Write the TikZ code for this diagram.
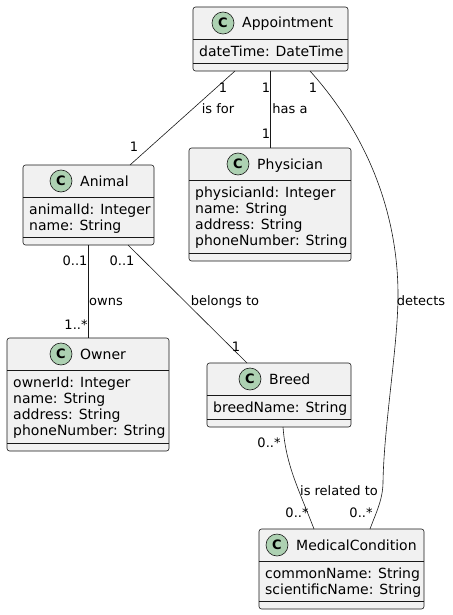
\documentclass[tikz,border=0pt]{standalone}
\usepackage{fontspec}
\setmainfont{DejaVu Sans}
\usetikzlibrary{calc}

\definecolor{boxfill}{HTML}{F1F1F1}
\definecolor{boxline}{HTML}{181818}
\definecolor{iconfill}{HTML}{ADD1B2}

\tikzset{
	classbox/.style={draw=boxline, fill=boxfill, rounded corners=2.5pt, line width=0.6pt, inner sep=0pt, outer sep=0pt},
	classicon/.style={circle, draw=boxline, fill=iconfill, line width=0.6pt, minimum size=22pt, inner sep=0pt, font=\fontsize{13}{13}\selectfont\bfseries},
	classtext/.style={inner sep=0pt, align=left, font=\fontsize{14}{16}\selectfont},
	assoc/.style={draw=boxline, line width=0.6pt},
	lbl/.style={inner sep=0pt, text height=9.4pt, text depth=0pt, font=\fontsize{13}{15}\selectfont}
}

% name, x, y, width, height, icon offset, title, attributes
\newcommand{\umlclass}[8]{%
	\node[classbox, minimum width=#4pt, minimum height=#5pt, anchor=north west] (#1) at (#2,#3) {};
	\node[classicon] (#1-icon) at ($(#1.north west)+(#6,16)$) {C};
	\node[classtext, anchor=base west] (#1-title) at ($(#1-icon.center)+(19,5)$) {#7};
	\draw[assoc] ($(#1.north west)+(0,32)$) -- ($(#1.north east)+(0,32)$);
	\draw[assoc] ($(#1.south west)+(0,-8)$) -- ($(#1.south east)+(0,-8)$);
	\node[classtext, anchor=north west] (#1-attr) at ($(#1.north west)+(6,39)$) {#8};
}

\begin{document}
\begin{tikzpicture}[x=1pt, y=-1pt]
	\useasboundingbox (0,0) rectangle (452,615);
	
	%%%%% CLASSES %%%%%
	\umlclass{appointment}{193}{7}{155}{64}{30}{Appointment}{dateTime: DateTime}
	\umlclass{animal}{23}{165}{131}{80}{38}{Animal}{animalId: Integer\\name: String}
	\umlclass{physician}{189}{148}{162}{113}{49}{Physician}{physicianId: Integer\\name: String\\address: String\\phoneNumber: String}
	\umlclass{owner}{7}{338}{162}{113}{54}{Owner}{ownerId: Integer\\name: String\\address: String\\phoneNumber: String}
	\umlclass{breed}{207}{363}{144}{64}{43}{Breed}{breedName: String}
	\umlclass{medcond}{259}{529}{165}{80}{18}{MedicalCondition}{commonName: String\\scientificName: String}
	
	%%%%% ASSOCIATIONS %%%%%
	\draw[assoc] ([xshift=42]appointment.south west) -- ([xshift=107]animal.north west);
	\draw[assoc] ([xshift=77]appointment.south west) -- ([xshift=81]physician.north west);
	\draw[assoc] ([xshift=117]appointment.south west) .. controls (372,140) and (398,220) .. (398,295)
		.. controls (398,345) and (384,425) .. (383,482)
		.. controls (383,500) and (375,515) .. ([xshift=111]medcond.north west);
	\draw[assoc] ([xshift=65]animal.south west) -- ([xshift=81]owner.north west);
	\draw[assoc] ([xshift=105]animal.south west) -- ([xshift=40]breed.north west);
	\draw[assoc] ([xshift=76]breed.south west) .. controls (286,465) and (297,485) .. ([xshift=55]medcond.north west);
	
	%%%%% LABELS %%%%%
	\node[lbl] (isfor-a) at (223,88) {1};
	\node[lbl] (isfor) at (218,109) {is for};
	\node[lbl] (isfor-b) at (134,147) {1};
	
	\node[lbl] (hasa-a) at (266,88) {1};
	\node[lbl] (hasa) at (290,109) {has a};
	\node[lbl] (hasa-b) at (266,134) {1};
	
	\node[lbl] (detects-a) at (313,88) {1};
	\node[lbl] (detects) at (421,301) {detects};
	\node[lbl] (detects-b) at (361,513) {0..*};
	
	\node[lbl] (owns-a) at (75,261) {0..1};
	\node[lbl] (owns) at (106,301) {owns};
	\node[lbl] (owns-b) at (76,325) {1..*};
	
	\node[lbl] (belongs-a) at (122,261) {0..1};
	\node[lbl] (belongs) at (225,301) {belongs to};
	\node[lbl] (belongs-b) at (236,347) {1};
	
	\node[lbl] (related-a) at (269,443) {0..*};
	\node[lbl] (related) at (339,491) {is related to};
	\node[lbl] (related-b) at (297,513) {0..*};
\end{tikzpicture}
\end{document}
